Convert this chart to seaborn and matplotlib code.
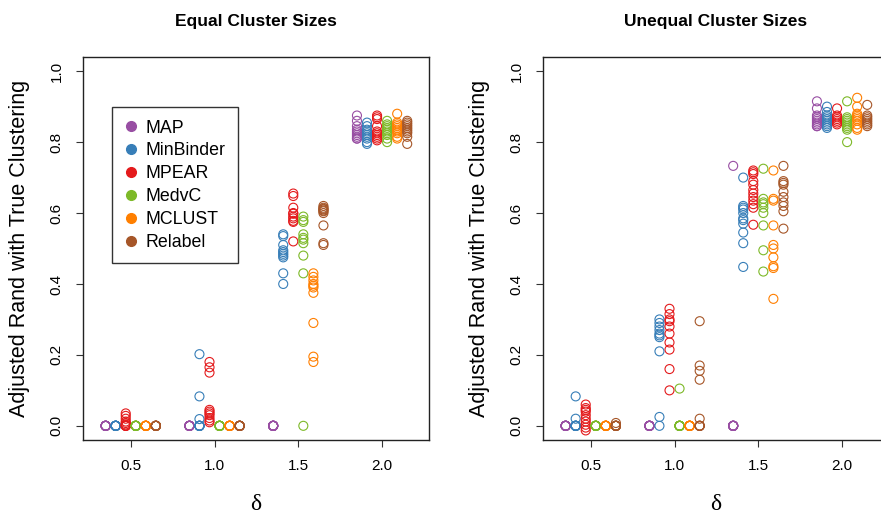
import matplotlib
matplotlib.use("Agg")
import numpy as np
import pandas as pd
import matplotlib.pyplot as plt
from matplotlib.lines import Line2D
import seaborn as sns

methods = ["MAP", "MinBinder", "MPEAR", "MedvC", "MCLUST", "Relabel"]
colors = ["#984EA3", "#377EB8", "#E41A1C", "#7DB928", "#FF7F00", "#A65628"]
deltas = [0.5, 1.0, 1.5, 2.0]

# adjusted Rand per replicate; one list per delta (0.5, 1.0, 1.5, 2.0)
eq_map = [[0, 0, 0, 0, 0, 0, 0, 0, 0, 0],
          [0, 0, 0, 0, 0, 0, 0, 0, 0, 0],
          [0, 0, 0, 0, 0, 0, 0, 0, 0, 0],
          [0.875, 0.86, 0.845, 0.835, 0.83, 0.825, 0.82, 0.815, 0.81, 0.81]]
eq_minbinder = [[0, 0, 0, 0, 0, 0, 0, 0, 0, 0],
                [0.202, 0.083, 0.019, 0, 0, 0, 0, 0, 0, 0],
                [0.54, 0.535, 0.51, 0.495, 0.49, 0.485, 0.48, 0.475, 0.43, 0.40],
                [0.855, 0.845, 0.835, 0.83, 0.825, 0.82, 0.815, 0.81, 0.80, 0.795]]
eq_mpear = [[0.035, 0.028, 0.02, 0.012, 0.008, 0.004, 0, 0, 0, 0],
            [0.18, 0.165, 0.15, 0.045, 0.04, 0.035, 0.03, 0.022, 0.015, 0.01],
            [0.655, 0.648, 0.615, 0.598, 0.59, 0.585, 0.578, 0.575, 0.52, 0.60],
            [0.875, 0.87, 0.865, 0.845, 0.83, 0.825, 0.82, 0.815, 0.81, 0.805]]
eq_medvc = [[0, 0, 0, 0, 0, 0, 0, 0, 0, 0],
            [0, 0, 0, 0, 0, 0, 0, 0, 0, 0],
            [0.59, 0.58, 0.575, 0.54, 0.53, 0.525, 0.515, 0.48, 0.43, 0.0],
            [0.86, 0.85, 0.845, 0.84, 0.835, 0.83, 0.825, 0.82, 0.81, 0.80]]
eq_mclust = [[0, 0, 0, 0, 0, 0, 0, 0, 0, 0],
             [0, 0, 0, 0, 0, 0, 0, 0, 0, 0],
             [0.43, 0.42, 0.41, 0.40, 0.395, 0.39, 0.375, 0.29, 0.195, 0.18],
             [0.88, 0.855, 0.85, 0.845, 0.84, 0.835, 0.83, 0.825, 0.815, 0.81]]
eq_relabel = [[0, 0, 0, 0, 0, 0, 0, 0, 0, 0],
              [0, 0, 0, 0, 0, 0, 0, 0, 0, 0],
              [0.62, 0.615, 0.612, 0.61, 0.607, 0.605, 0.60, 0.565, 0.515, 0.51],
              [0.86, 0.855, 0.85, 0.845, 0.84, 0.835, 0.83, 0.825, 0.815, 0.795]]

uneq_map = [[0, 0, 0, 0, 0, 0, 0, 0, 0, 0],
            [0, 0, 0, 0, 0, 0, 0, 0, 0, 0],
            [0.733, 0, 0, 0, 0, 0, 0, 0, 0, 0],
            [0.915, 0.895, 0.875, 0.87, 0.865, 0.86, 0.855, 0.85, 0.845, 0.845]]
uneq_minbinder = [[0.083, 0.02, 0, 0, 0, 0, 0, 0, 0, 0],
                  [0.30, 0.29, 0.28, 0.27, 0.26, 0.255, 0.25, 0.21, 0.025, 0.0],
                  [0.70, 0.62, 0.615, 0.61, 0.60, 0.585, 0.58, 0.57, 0.545, 0.515, 0.448],
                  [0.90, 0.885, 0.875, 0.87, 0.865, 0.86, 0.855, 0.85, 0.845, 0.84]]
uneq_mpear = [[0.06, 0.05, 0.045, 0.04, 0.03, 0.02, 0.012, 0.003, -0.005, -0.013],
              [0.33, 0.315, 0.30, 0.295, 0.28, 0.26, 0.235, 0.215, 0.16, 0.10],
              [0.72, 0.715, 0.71, 0.69, 0.68, 0.665, 0.655, 0.645, 0.635, 0.625, 0.615, 0.567],
              [0.895, 0.875, 0.87, 0.865, 0.86, 0.855, 0.85]]
uneq_medvc = [[0, 0, 0, 0, 0, 0, 0, 0, 0, 0],
              [0.105, 0, 0, 0, 0, 0, 0, 0, 0, 0],
              [0.725, 0.64, 0.63, 0.625, 0.615, 0.60, 0.565, 0.495, 0.435],
              [0.915, 0.87, 0.865, 0.86, 0.855, 0.85, 0.845, 0.84, 0.835, 0.80]]
uneq_mclust = [[0, 0, 0, 0, 0, 0, 0, 0, 0, 0],
               [0, 0, 0, 0, 0, 0, 0, 0, 0, 0],
               [0.72, 0.64, 0.635, 0.565, 0.51, 0.50, 0.475, 0.45, 0.445, 0.358],
               [0.925, 0.90, 0.88, 0.875, 0.87, 0.865, 0.86, 0.85, 0.84, 0.835]]
uneq_relabel = [[0.008, 0, 0, 0, 0, 0, 0, 0, 0, 0],
                [0.295, 0.17, 0.155, 0.13, 0.02, 0, 0, 0, 0, 0],
                [0.733, 0.69, 0.685, 0.68, 0.66, 0.645, 0.63, 0.62, 0.605, 0.556],
                [0.905, 0.875, 0.87, 0.865, 0.86, 0.855, 0.85, 0.845]]

equal = [eq_map, eq_minbinder, eq_mpear, eq_medvc, eq_mclust, eq_relabel]
unequal = [uneq_map, uneq_minbinder, uneq_mpear, uneq_medvc, uneq_mclust, uneq_relabel]


def to_long(series):
    rows = []
    for i, (m, per_delta) in enumerate(zip(methods, series)):
        for d, vals in zip(deltas, per_delta):
            for v in vals:
                rows.append({"method": m, "delta": d, "ari": v,
                             "xpos": d - 0.15 + 0.06 * i})
    return pd.DataFrame(rows)


sns.set_theme(style="white")
plt.rcParams["font.family"] = ["Liberation Sans", "DejaVu Sans"]
plt.rcParams["text.color"] = "black"
plt.rcParams["axes.labelcolor"] = "black"
plt.rcParams["xtick.color"] = "black"
plt.rcParams["ytick.color"] = "black"

fig = plt.figure(figsize=(8.81, 5.15), dpi=100)
W, H = 881, 515
panels = [("Equal Cluster Sizes", equal, 83), ("Unequal Cluster Sizes", unequal, 543)]

for title, series, left in panels:
    ax = fig.add_axes([left / W, 1 - 440 / H, 346 / W, 383 / H])
    df = to_long(series)
    for m, c in zip(methods, colors):
        sub = df[df["method"] == m]
        sns.scatterplot(data=sub, x="xpos", y="ari", ax=ax, color=c,
                        facecolor="none", edgecolor=c, s=42, linewidth=0.8,
                        marker="o", legend=False)
    ax.set_xlim(0.215, 2.28)
    ax.set_ylim(-0.04, 1.04)
    ax.set_xticks(deltas)
    ax.set_xticklabels(["0.5", "1.0", "1.5", "2.0"])
    ax.set_yticks([0, 0.2, 0.4, 0.6, 0.8, 1.0])
    ax.set_yticklabels(["0.0", "0.2", "0.4", "0.6", "0.8", "1.0"], rotation=90, va="center")
    ax.tick_params(axis="both", direction="out", length=5, width=0.8, color="#333333",
                   labelsize=11, labelcolor="black", pad=9, left=True, bottom=True)
    for sp in ax.spines.values():
        sp.set_color("#222222")
        sp.set_linewidth(1.0)
    ax.set_xlabel("δ", fontsize=17, family=["Liberation Serif", "DejaVu Serif"], labelpad=15)
    ax.set_ylabel("Adjusted Rand with True Clustering", fontsize=15.5, labelpad=14)
    ax.set_title(title, fontsize=12.5, fontweight="bold", pad=22)

    if left == 83:
        handles = [Line2D([0], [0], marker="o", linestyle="none", markersize=7,
                          markerfacecolor=c, markeredgecolor=c) for c in colors]
        leg = ax.legend(handles, methods, loc="upper left", bbox_to_anchor=(0.084, 0.869),
                        borderaxespad=0, frameon=True, fancybox=False, fontsize=12.8,
                        handletextpad=0.5, labelspacing=0.33, borderpad=0.7, handlelength=0.7)
        leg.get_frame().set_edgecolor("black")
        leg.get_frame().set_linewidth(1.0)

fig.savefig("out.png", dpi=100)
